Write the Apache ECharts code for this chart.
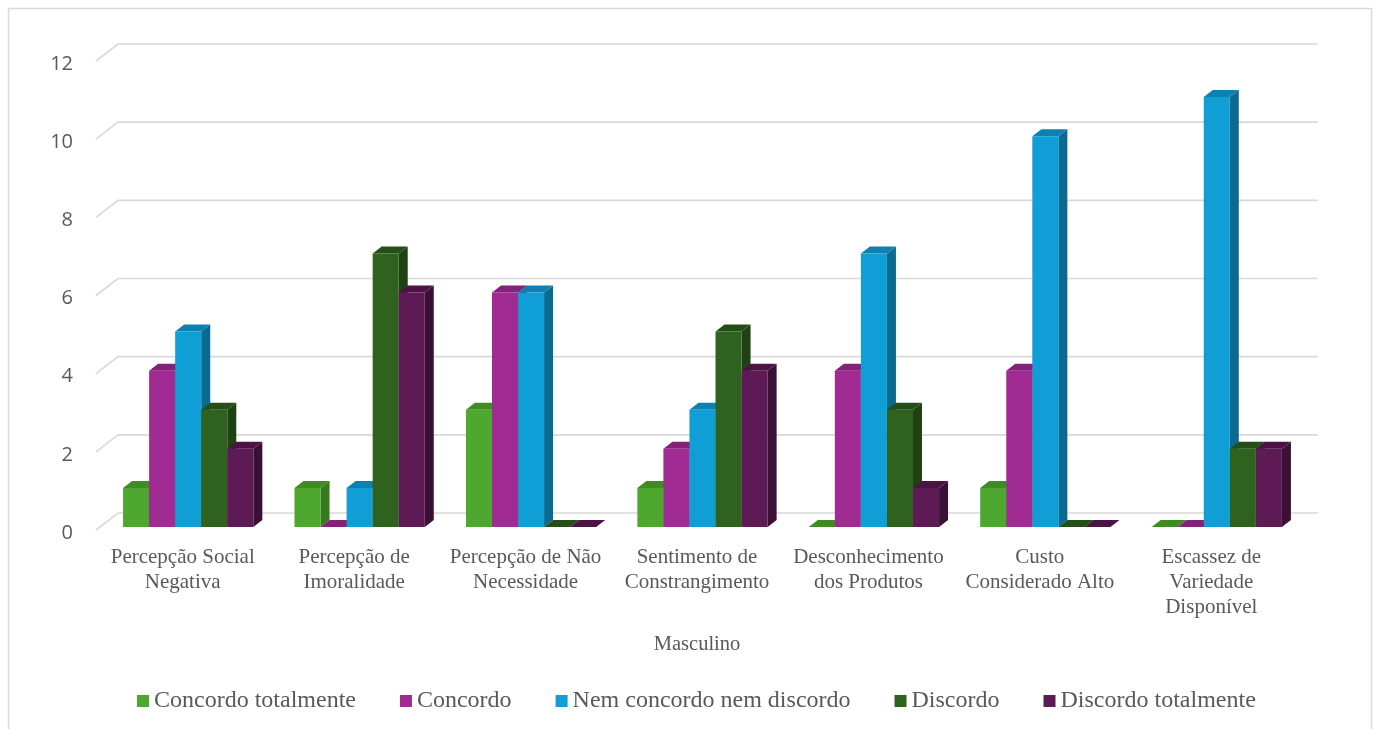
<!DOCTYPE html>
<html>
<head>
<meta charset="utf-8">
<title>Masculino</title>
<script src="https://cdn.jsdelivr.net/npm/echarts@6/dist/echarts.min.js"></script>
<style>
  html, body { margin: 0; padding: 0; background: #ffffff; }
  #chart { width: 1378px; height: 729px; }
</style>
</head>
<body>
<div id="chart"></div>
<script>
// Categories (x axis) and the five answer series
const categories = [
  'Percepção Social\nNegativa',
  'Percepção de\nImoralidade',
  'Percepção de Não\nNecessidade',
  'Sentimento de\nConstrangimento',
  'Desconhecimento\ndos Produtos',
  'Custo\nConsiderado Alto',
  'Escassez de\nVariedade\nDisponível'
];
const seriesNames = [
  'Concordo totalmente',
  'Concordo',
  'Nem concordo nem discordo',
  'Discordo',
  'Discordo totalmente'
];
const concordoTotalmente     = [1, 1, 3, 1, 0, 1, 0];
const concordo               = [4, 0, 6, 2, 4, 4, 0];
const nemConcordoNemDiscordo = [5, 1, 6, 3, 7, 10, 11];
const discordo               = [3, 7, 0, 5, 3, 0, 2];
const discordoTotalmente     = [2, 6, 0, 4, 1, 0, 2];
const yTicks = [0, 2, 4, 6, 8, 10, 12];
const axisTitle = 'Masculino';

const seriesValues = [concordoTotalmente, concordo, nemConcordoNemDiscordo, discordo, discordoTotalmente];

// Face colours for the extruded bars: front, top, side
const palette = [
  { front: '#4EA72E', top: '#3F8C25', side: '#367A20' },
  { front: '#A02B93', top: '#84227A', side: '#6E1C66' },
  { front: '#0F9ED5', top: '#0D82B0', side: '#0A6A8F' },
  { front: '#2F621F', top: '#254F18', side: '#1E4214' },
  { front: '#5E1A55', top: '#4B1444', side: '#3B1036' }
];

const DEPTH_X = 9;   // bar extrusion, px
const DEPTH_Y = 7;
const WALL_X = 21;   // back wall offset, px
const WALL_Y = 14;

function barRenderer(idx) {
  const col = palette[idx];
  return function (params, api) {
    const cat = api.value(0);
    const val = api.value(1);
    const base = api.coord([cat, 0]);
    const top = api.coord([cat, val]);
    const band = api.size([1, 0])[0];
    const bw = band * 0.152;
    const x = base[0] - band / 2 + bw * (idx + 1);
    const y0 = base[1];
    const y1 = top[1];
    return {
      type: 'group',
      children: [
        {
          type: 'polygon',
          shape: { points: [[x + bw, y1], [x + bw + DEPTH_X, y1 - DEPTH_Y], [x + bw + DEPTH_X, y0 - DEPTH_Y], [x + bw, y0]] },
          style: { fill: col.side }
        },
        {
          type: 'polygon',
          shape: { points: [[x, y1], [x + DEPTH_X, y1 - DEPTH_Y], [x + bw + DEPTH_X, y1 - DEPTH_Y], [x + bw, y1]] },
          style: { fill: col.top }
        },
        {
          type: 'rect',
          shape: { x: x, y: y1, width: bw, height: y0 - y1 },
          style: { fill: col.front }
        }
      ]
    };
  };
}

// Back-wall gridlines with the short diagonal on the left, plus the value label
function gridRenderer(params, api) {
  const v = api.value(1);
  const p = api.coord([0, v]);
  const cs = params.coordSys;
  const xl = cs.x;
  const xr = cs.x + cs.width;
  const y = p[1];
  return {
    type: 'group',
    children: [
      {
        type: 'polyline',
        shape: { points: [[xl - 1, y + 3], [xl + WALL_X, y - WALL_Y], [xr + WALL_X, y - WALL_Y]] },
        style: { stroke: '#D9D9D9', lineWidth: 1.6, fill: null }
      },
      {
        type: 'text',
        x: xl - 24,
        y: y + 6,
        style: {
          text: String(v),
          align: 'right',
          verticalAlign: 'middle',
          fill: '#595959',
          font: '20px "Open Sans"'
        }
      }
    ]
  };
}

const series = [{
  type: 'custom',
  name: 'grid',
  silent: true,
  z: 1,
  renderItem: gridRenderer,
  data: yTicks.map(function (t) { return [0, t]; })
}];

seriesValues.forEach(function (vals, i) {
  series.push({
    type: 'custom',
    name: seriesNames[i],
    z: 2 + i,
    itemStyle: { color: palette[i].front },
    renderItem: barRenderer(i),
    data: vals.map(function (v, c) { return [c, v]; })
  });
});

const chart = echarts.init(document.getElementById('chart'), null, { renderer: 'canvas' });
chart.setOption({
  animation: false,
  backgroundColor: '#ffffff',
  graphic: [{
    type: 'rect',
    shape: { x: 8.5, y: 8.5, width: 1363, height: 800 },
    style: { fill: null, stroke: '#D9D9D9', lineWidth: 1.5 },
    silent: true
  }],
  grid: { left: 97, right: 81, top: 58, bottom: 202 },
  xAxis: {
    type: 'category',
    data: categories,
    boundaryGap: true,
    axisLine: { show: false },
    axisTick: { show: false },
    axisLabel: {
      interval: 0,
      margin: 18,
      color: '#595959',
      fontFamily: 'Liberation Serif',
      fontSize: 21,
      lineHeight: 25
    },
    name: axisTitle,
    nameLocation: 'middle',
    nameGap: 106,
    nameTextStyle: {
      color: '#595959',
      fontFamily: 'Liberation Serif',
      fontSize: 20.5,
      lineHeight: 24
    }
  },
  yAxis: {
    type: 'value',
    min: 0,
    max: 12,
    interval: 2,
    axisLine: { show: false },
    axisTick: { show: false },
    splitLine: { show: false },
    axisLabel: { show: false }
  },
  legend: {
    data: seriesNames,
    left: 132,
    top: 682,
    icon: 'rect',
    itemWidth: 12,
    itemHeight: 12,
    itemGap: 44,
    textStyle: {
      color: '#595959',
      fontFamily: 'Liberation Serif',
      fontSize: 24,
      lineHeight: 28
    }
  },
  series: series
});
</script>
</body>
</html>
